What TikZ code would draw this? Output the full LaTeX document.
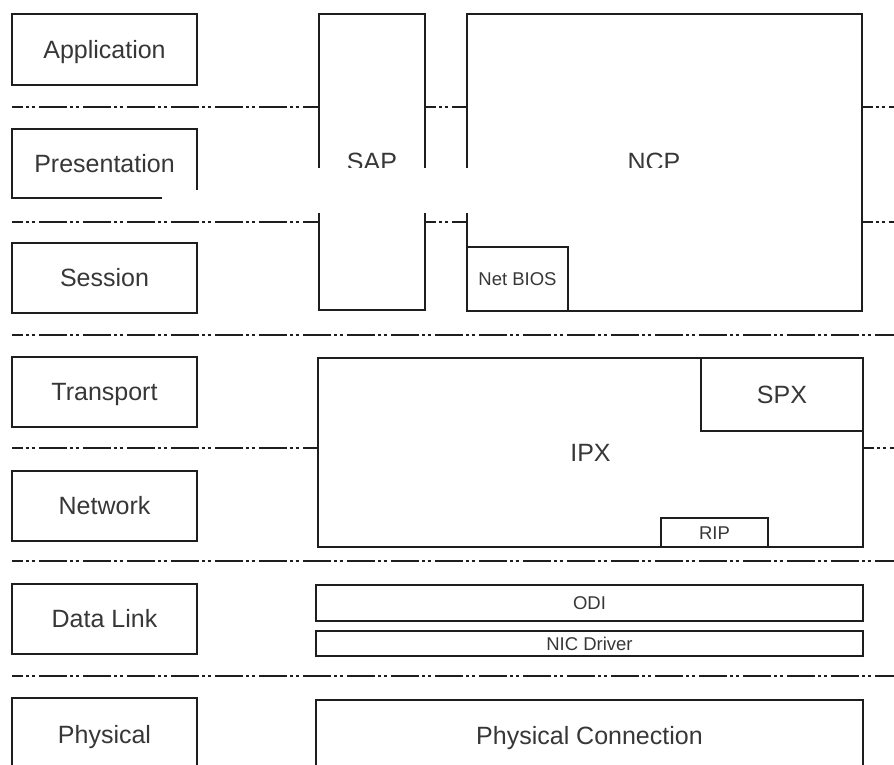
\documentclass[tikz,border=0pt]{standalone}
\usepackage{fontspec}
\setmainfont{Liberation Sans}
\definecolor{txt}{RGB}{55,55,55}
\definecolor{ln}{RGB}{30,30,30}
\begin{document}
\begin{tikzpicture}[x=1pt,y=-1pt,
  box/.style={draw=ln, line width=1.3pt, text=txt, font=\fontsize{25}{30}\selectfont,
              inner sep=0pt, outer sep=0pt, anchor=north west, text height=17.9pt, text depth=0pt},
  small/.style={box, font=\fontsize{18.5}{22}\selectfont, text height=13.2pt},
  lbl/.style={text=txt, font=\fontsize{25}{30}\selectfont, inner sep=0pt, text height=17.9pt, text depth=0pt},
  sepline/.style={draw=ln, line width=1.3pt,
              dash pattern=on 28pt off 3pt on 3pt off 2.5pt on 3pt off 4.5pt, dash phase=17pt}]
\clip (0,0) rectangle (894,765);
\fill[white] (0,0) rectangle (894,765);
% left OSI boxes
\node[box, minimum width=185pt, minimum height=71pt] (app) at (12,14) {Application};
\node[box, minimum width=185pt, minimum height=69pt] (pres) at (12,129) {Presentation};
\node[box, minimum width=185pt, minimum height=70pt] (sess) at (12,243) {Session};
\node[box, minimum width=185pt, minimum height=70pt] (trans) at (12,357) {Transport};
\node[box, minimum width=185pt, minimum height=70pt] (net) at (12,471) {Network};
\node[box, minimum width=185pt, minimum height=70pt] (dl) at (12,584) {Data Link};
\node[box, minimum width=185pt, minimum height=74pt] (phys) at (12,698) {Physical};
% protocol boxes
\node[box, minimum width=106pt, minimum height=296pt] (sap) at (319,14) {SAP};
\node[box, minimum width=395pt, minimum height=297pt] (ncp) at (467,14) {};
\node[lbl] (ncpt) at (654,162) {NCP};
\node[small, minimum width=101pt, minimum height=64pt] (nb) at (467,247) {Net BIOS};
\node[box, minimum width=545pt, minimum height=189pt] (ipx) at (318,358) {IPX};
\node[box, minimum width=162pt, minimum height=73pt] (spx) at (701,358) {SPX};
\node[small, minimum width=107pt, minimum height=29pt] (rip) at (661,518) {RIP};
\node[small, minimum width=547pt, minimum height=36pt] (odi) at (316,585) {ODI};
\node[small, minimum width=547pt, minimum height=25pt] (nic) at (316,631) {NIC Driver};
\node[box, minimum width=547pt, minimum height=72pt] (pc) at (316,700) {Physical Connection};
% separator lines
\coordinate (a1) at (12,107); \coordinate (b1) at (894,107);
\coordinate (a2) at (12,222); \coordinate (b2) at (894,222);
\coordinate (a3) at (12,335); \coordinate (b3) at (894,335);
\coordinate (a4) at (12,448); \coordinate (b4) at (894,448);
\coordinate (a5) at (12,561); \coordinate (b5) at (894,561);
\coordinate (a6) at (12,676); \coordinate (b6) at (894,676);
\draw[sepline] (a1) -- (sap.west |- a1);
\draw[sepline] (sap.east |- a1) -- (ncp.west |- a1);
\draw[sepline] (ncp.east |- a1) -- (b1);
\draw[sepline] (a2) -- (sap.west |- a2);
\draw[sepline] (sap.east |- a2) -- (ncp.west |- a2);
\draw[sepline] (ncp.east |- a2) -- (b2);
\draw[sepline] (a3) -- (b3);
\draw[sepline] (a4) -- (ipx.west |- a4);
\draw[sepline] (ipx.east |- a4) -- (b4);
\draw[sepline] (a5) -- (b5);
\draw[sepline] (a6) -- (b6);
% white band as in the reference
\fill[white] (162,190) rectangle (200,215);
\fill[white] (200,168) rectangle (850,213);
\end{tikzpicture}
\end{document}
